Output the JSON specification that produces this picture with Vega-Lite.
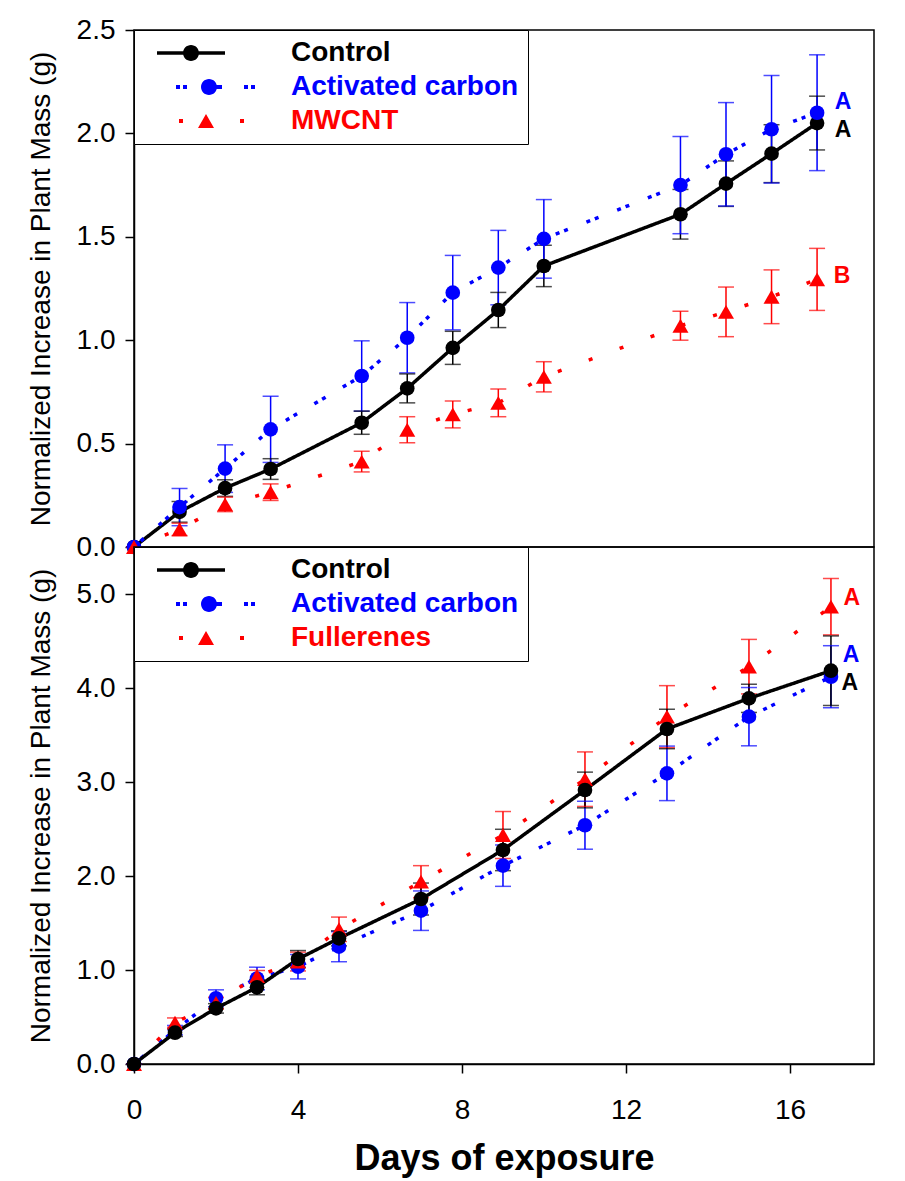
{
  "$schema": "https://vega.github.io/schema/vega-lite/v6.json",
  "background": "#ffffff",
  "padding": {"left": 26, "top": 15, "right": 10, "bottom": 10},
  "spacing": 0,
  "bounds": "flush",
  "resolve": {
    "scale": {"color": "independent", "strokeDash": "independent", "x": "independent", "y": "independent"},
    "legend": {"color": "independent"}
  },
  "datasets": {
    "top": [
      {"series": "Control", "day": 0, "y": 0, "lo": 0, "hi": 0},
      {"series": "Control", "day": 1, "y": 0.17, "lo": 0.12, "hi": 0.22},
      {"series": "Control", "day": 2, "y": 0.285, "lo": 0.245, "hi": 0.325},
      {"series": "Control", "day": 3, "y": 0.377, "lo": 0.327, "hi": 0.427},
      {"series": "Control", "day": 5, "y": 0.601, "lo": 0.545, "hi": 0.657},
      {"series": "Control", "day": 6, "y": 0.767, "lo": 0.697, "hi": 0.837},
      {"series": "Control", "day": 7, "y": 0.963, "lo": 0.883, "hi": 1.043},
      {"series": "Control", "day": 8, "y": 1.146, "lo": 1.061, "hi": 1.231},
      {"series": "Control", "day": 9, "y": 1.359, "lo": 1.259, "hi": 1.459},
      {"series": "Control", "day": 12, "y": 1.609, "lo": 1.489, "hi": 1.729},
      {"series": "Control", "day": 13, "y": 1.757, "lo": 1.647, "hi": 1.867},
      {"series": "Control", "day": 14, "y": 1.902, "lo": 1.762, "hi": 2.042},
      {"series": "Control", "day": 15, "y": 2.05, "lo": 1.92, "hi": 2.18},
      {"series": "Activated carbon", "day": 0, "y": 0, "lo": 0, "hi": 0},
      {"series": "Activated carbon", "day": 1, "y": 0.193, "lo": 0.103, "hi": 0.283},
      {"series": "Activated carbon", "day": 2, "y": 0.379, "lo": 0.264, "hi": 0.494},
      {"series": "Activated carbon", "day": 3, "y": 0.569, "lo": 0.409, "hi": 0.729},
      {"series": "Activated carbon", "day": 5, "y": 0.827, "lo": 0.657, "hi": 0.997},
      {"series": "Activated carbon", "day": 6, "y": 1.012, "lo": 0.842, "hi": 1.182},
      {"series": "Activated carbon", "day": 7, "y": 1.23, "lo": 1.05, "hi": 1.41},
      {"series": "Activated carbon", "day": 8, "y": 1.351, "lo": 1.171, "hi": 1.531},
      {"series": "Activated carbon", "day": 9, "y": 1.49, "lo": 1.3, "hi": 1.68},
      {"series": "Activated carbon", "day": 12, "y": 1.75, "lo": 1.515, "hi": 1.985},
      {"series": "Activated carbon", "day": 13, "y": 1.899, "lo": 1.649, "hi": 2.149},
      {"series": "Activated carbon", "day": 14, "y": 2.02, "lo": 1.76, "hi": 2.28},
      {"series": "Activated carbon", "day": 15, "y": 2.1, "lo": 1.82, "hi": 2.38},
      {"series": "MWCNT", "day": 0, "y": 0, "lo": 0, "hi": 0},
      {"series": "MWCNT", "day": 1, "y": 0.085, "lo": 0.055, "hi": 0.115},
      {"series": "MWCNT", "day": 2, "y": 0.206, "lo": 0.171, "hi": 0.241},
      {"series": "MWCNT", "day": 3, "y": 0.265, "lo": 0.225, "hi": 0.305},
      {"series": "MWCNT", "day": 5, "y": 0.413, "lo": 0.363, "hi": 0.463},
      {"series": "MWCNT", "day": 6, "y": 0.567, "lo": 0.504, "hi": 0.63},
      {"series": "MWCNT", "day": 7, "y": 0.641, "lo": 0.576, "hi": 0.706},
      {"series": "MWCNT", "day": 8, "y": 0.697, "lo": 0.63, "hi": 0.764},
      {"series": "MWCNT", "day": 9, "y": 0.823, "lo": 0.75, "hi": 0.896},
      {"series": "MWCNT", "day": 12, "y": 1.07, "lo": 1.0, "hi": 1.14},
      {"series": "MWCNT", "day": 13, "y": 1.137, "lo": 1.017, "hi": 1.257},
      {"series": "MWCNT", "day": 14, "y": 1.21, "lo": 1.08, "hi": 1.34},
      {"series": "MWCNT", "day": 15, "y": 1.294, "lo": 1.144, "hi": 1.444}
    ],
    "topLabels": [
      {"series": "Activated carbon", "day": 15.57, "y": 2.152, "text": "A"},
      {"series": "Control", "day": 15.57, "y": 2.016, "text": "A"},
      {"series": "MWCNT", "day": 15.55, "y": 1.31, "text": "B"}
    ],
    "bottom": [
      {"series": "Activated carbon", "day": 0, "y": 0, "lo": 0, "hi": 0},
      {"series": "Activated carbon", "day": 1, "y": 0.36, "lo": 0.31, "hi": 0.41},
      {"series": "Activated carbon", "day": 2, "y": 0.699, "lo": 0.609, "hi": 0.789},
      {"series": "Activated carbon", "day": 3, "y": 0.91, "lo": 0.79, "hi": 1.03},
      {"series": "Activated carbon", "day": 4, "y": 1.035, "lo": 0.905, "hi": 1.165},
      {"series": "Activated carbon", "day": 5, "y": 1.248, "lo": 1.088, "hi": 1.408},
      {"series": "Activated carbon", "day": 7, "y": 1.631, "lo": 1.421, "hi": 1.841},
      {"series": "Activated carbon", "day": 9, "y": 2.11, "lo": 1.89, "hi": 2.33},
      {"series": "Activated carbon", "day": 11, "y": 2.54, "lo": 2.285, "hi": 2.795},
      {"series": "Activated carbon", "day": 13, "y": 3.092, "lo": 2.802, "hi": 3.382},
      {"series": "Activated carbon", "day": 15, "y": 3.695, "lo": 3.385, "hi": 4.005},
      {"series": "Activated carbon", "day": 17, "y": 4.12, "lo": 3.79, "hi": 4.45},
      {"series": "Fullerenes", "day": 0, "y": 0, "lo": 0, "hi": 0},
      {"series": "Fullerenes", "day": 1, "y": 0.44, "lo": 0.39, "hi": 0.49},
      {"series": "Fullerenes", "day": 2, "y": 0.65, "lo": 0.59, "hi": 0.71},
      {"series": "Fullerenes", "day": 3, "y": 0.936, "lo": 0.876, "hi": 0.996},
      {"series": "Fullerenes", "day": 4, "y": 1.09, "lo": 0.99, "hi": 1.19},
      {"series": "Fullerenes", "day": 5, "y": 1.433, "lo": 1.303, "hi": 1.563},
      {"series": "Fullerenes", "day": 7, "y": 1.94, "lo": 1.77, "hi": 2.11},
      {"series": "Fullerenes", "day": 9, "y": 2.436, "lo": 2.186, "hi": 2.686},
      {"series": "Fullerenes", "day": 11, "y": 3.03, "lo": 2.74, "hi": 3.32},
      {"series": "Fullerenes", "day": 13, "y": 3.695, "lo": 3.365, "hi": 4.025},
      {"series": "Fullerenes", "day": 15, "y": 4.227, "lo": 3.937, "hi": 4.517},
      {"series": "Fullerenes", "day": 17, "y": 4.865, "lo": 4.565, "hi": 5.165},
      {"series": "Control", "day": 0, "y": 0, "lo": 0, "hi": 0},
      {"series": "Control", "day": 1, "y": 0.333, "lo": 0.293, "hi": 0.373},
      {"series": "Control", "day": 2, "y": 0.592, "lo": 0.542, "hi": 0.642},
      {"series": "Control", "day": 3, "y": 0.816, "lo": 0.736, "hi": 0.896},
      {"series": "Control", "day": 4, "y": 1.117, "lo": 1.027, "hi": 1.207},
      {"series": "Control", "day": 5, "y": 1.337, "lo": 1.257, "hi": 1.417},
      {"series": "Control", "day": 7, "y": 1.755, "lo": 1.585, "hi": 1.925},
      {"series": "Control", "day": 9, "y": 2.277, "lo": 2.057, "hi": 2.497},
      {"series": "Control", "day": 11, "y": 2.915, "lo": 2.725, "hi": 3.105},
      {"series": "Control", "day": 13, "y": 3.564, "lo": 3.354, "hi": 3.774},
      {"series": "Control", "day": 15, "y": 3.89, "lo": 3.74, "hi": 4.04},
      {"series": "Control", "day": 17, "y": 4.184, "lo": 3.814, "hi": 4.554}
    ],
    "bottomLabels": [
      {"series": "Fullerenes", "day": 17.51, "y": 4.957, "text": "A"},
      {"series": "Activated carbon", "day": 17.49, "y": 4.351, "text": "A"},
      {"series": "Control", "day": 17.46, "y": 4.053, "text": "A"}
    ]
  },
  "vconcat": [
    {
      "width": 740,
      "height": 517,
      "data": {"name": "top"},
      "encoding": {
        "x": {"field": "day", "type": "quantitative", "scale": {"domain": [0, 16.25], "nice": false, "zero": false}, "axis": null},
        "color": {
          "field": "series", "type": "nominal",
          "scale": {"domain": ["Control", "Activated carbon", "MWCNT"], "range": ["#000000", "#0000ff", "#ff0000"]},
          "legend": {
            "orient": "top-left", "offset": 0, "title": null, "padding": 9,
            "strokeColor": "#000000", "fillColor": "#ffffff",
            "labelFont": "Liberation Sans", "labelFontSize": 28, "labelFontWeight": "bold", "labelLimit": 500,
            "rowPadding": 6, "symbolSize": 400, "symbolOffset": 49, "labelOffset": 71,
            "symbolType": {"expr": "datum.value === 'Control' ? 'M-4.9,-0.17H1.9V0.17H-4.9ZM-2.3,0A0.8 0.8 0 1 1 -0.7 0A0.8 0.8 0 1 1 -2.3 0Z' : datum.value === 'Activated carbon' ? 'M-3,-0.2H-2.6V0.2H-3ZM-2.3,-0.2H-1.9V0.2H-2.3ZM-0.5,0A0.8 0.8 0 1 1 1.1 0A0.8 0.8 0 1 1 -0.5 0ZM0.9,-0.2H1.6V0.2H0.9ZM3.8,-0.2H4.2V0.2H3.8ZM4.5,-0.2H4.9V0.2H4.5Z' : 'M-2.7,-0.2H-2.3V0.2H-2.7ZM0,-0.7L0.8,0.7L-0.8,0.7ZM3.4,-0.2H3.8V0.2H3.4Z'"},
            "symbolFillColor": {"expr": "datum.value === 'Control' ? '#000000' : datum.value === 'Activated carbon' ? '#0000ff' : '#ff0000'"},
            "symbolStrokeColor": "transparent",
            "symbolStrokeWidth": 0,
            "symbolOpacity": 1,
            "labelColor": {"expr": "datum.value === 'Control' ? '#000000' : datum.value === 'Activated carbon' ? '#0000ff' : '#ff0000'"}
          }
        }
      },
      "layer": [
        {
          "mark": {"type": "rule", "strokeWidth": 1.5},
          "encoding": {
            "y": {"field": "lo", "type": "quantitative", "scale": {"domain": [0, 2.5], "nice": false},
                  "axis": {"title": "Normalized Increase in Plant Mass (g)", "values": [0, 0.5, 1, 1.5, 2, 2.5], "format": ".1f"}},
            "y2": {"field": "hi"}
          }
        },
        {
          "mark": {"type": "tick", "orient": "horizontal", "size": 16, "thickness": 1.5},
          "encoding": {"y": {"field": "lo", "type": "quantitative"}}
        },
        {
          "mark": {"type": "tick", "orient": "horizontal", "size": 16, "thickness": 1.5},
          "encoding": {"y": {"field": "hi", "type": "quantitative"}}
        },
        {
          "mark": {"type": "line", "strokeWidth": 3.5},
          "encoding": {
            "y": {"field": "y", "type": "quantitative"},
            "strokeDash": {"field": "series", "type": "nominal", "scale": {"domain": ["Control", "Activated carbon", "MWCNT"], "range": [[1, 0], [4, 5, 4, 20], [4, 29]]}, "legend": null}
          }
        },
        {
          "transform": [{"filter": "datum.series === 'Control'"}],
          "mark": {"type": "point", "shape": "circle", "filled": true, "opacity": 1, "size": 215, "strokeWidth": 0},
          "encoding": {"y": {"field": "y", "type": "quantitative"}}
        },
        {
          "transform": [{"filter": "datum.series === 'Activated carbon'"}],
          "mark": {"type": "point", "shape": "circle", "filled": true, "opacity": 1, "size": 215, "strokeWidth": 0},
          "encoding": {"y": {"field": "y", "type": "quantitative"}}
        },
        {
          "transform": [{"filter": "datum.series === 'MWCNT'"}],
          "mark": {"type": "point", "shape": "triangle-up", "filled": true, "opacity": 1, "size": 256, "strokeWidth": 0},
          "encoding": {"y": {"field": "y", "type": "quantitative"}}
        },
        {
          "data": {"name": "topLabels"},
          "mark": {"type": "text", "font": "Liberation Sans", "fontSize": 23, "fontWeight": "bold", "align": "center", "baseline": "middle"},
          "encoding": {
            "y": {"field": "y", "type": "quantitative"},
            "text": {"field": "text"}
          }
        }
      ]
    },
    {
      "width": 740,
      "height": 517,
      "data": {"name": "bottom"},
      "encoding": {
        "x": {"field": "day", "type": "quantitative", "scale": {"domain": [0, 18.05], "nice": false, "zero": false},
              "axis": {"title": "Days of exposure", "values": [0, 4, 8, 12, 16], "format": "d", "titleFontSize": 36, "titleFontWeight": "bold", "labelPadding": 23, "titlePadding": 17}},
        "color": {
          "field": "series", "type": "nominal",
          "scale": {"domain": ["Control", "Activated carbon", "Fullerenes"], "range": ["#000000", "#0000ff", "#ff0000"]},
          "legend": {
            "orient": "top-left", "offset": 0, "title": null, "padding": 9,
            "strokeColor": "#000000", "fillColor": "#ffffff",
            "labelFont": "Liberation Sans", "labelFontSize": 28, "labelFontWeight": "bold", "labelLimit": 500,
            "rowPadding": 6, "symbolSize": 400, "symbolOffset": 49, "labelOffset": 71,
            "symbolType": {"expr": "datum.value === 'Control' ? 'M-4.9,-0.17H1.9V0.17H-4.9ZM-2.3,0A0.8 0.8 0 1 1 -0.7 0A0.8 0.8 0 1 1 -2.3 0Z' : datum.value === 'Activated carbon' ? 'M-3,-0.2H-2.6V0.2H-3ZM-2.3,-0.2H-1.9V0.2H-2.3ZM-0.5,0A0.8 0.8 0 1 1 1.1 0A0.8 0.8 0 1 1 -0.5 0ZM0.9,-0.2H1.6V0.2H0.9ZM3.8,-0.2H4.2V0.2H3.8ZM4.5,-0.2H4.9V0.2H4.5Z' : 'M-2.7,-0.2H-2.3V0.2H-2.7ZM0,-0.7L0.8,0.7L-0.8,0.7ZM3.4,-0.2H3.8V0.2H3.4Z'"},
            "symbolFillColor": {"expr": "datum.value === 'Control' ? '#000000' : datum.value === 'Activated carbon' ? '#0000ff' : '#ff0000'"},
            "symbolStrokeColor": "transparent",
            "symbolStrokeWidth": 0,
            "symbolOpacity": 1,
            "labelColor": {"expr": "datum.value === 'Control' ? '#000000' : datum.value === 'Activated carbon' ? '#0000ff' : '#ff0000'"}
          }
        }
      },
      "layer": [
        {
          "mark": {"type": "rule", "strokeWidth": 1.5},
          "encoding": {
            "y": {"field": "lo", "type": "quantitative", "scale": {"domain": [0, 5.5], "nice": false},
                  "axis": {"title": "Normalized Increase in Plant Mass (g)", "values": [0, 1, 2, 3, 4, 5], "format": ".1f"}},
            "y2": {"field": "hi"}
          }
        },
        {
          "mark": {"type": "tick", "orient": "horizontal", "size": 16, "thickness": 1.5},
          "encoding": {"y": {"field": "lo", "type": "quantitative"}}
        },
        {
          "mark": {"type": "tick", "orient": "horizontal", "size": 16, "thickness": 1.5},
          "encoding": {"y": {"field": "hi", "type": "quantitative"}}
        },
        {
          "mark": {"type": "line", "strokeWidth": 3.5},
          "encoding": {
            "y": {"field": "y", "type": "quantitative"},
            "strokeDash": {"field": "series", "type": "nominal", "scale": {"domain": ["Control", "Activated carbon", "Fullerenes"], "range": [[1, 0], [4, 5, 4, 20], [4, 29]]}, "legend": null}
          }
        },
        {
          "transform": [{"filter": "datum.series === 'Activated carbon'"}],
          "mark": {"type": "point", "shape": "circle", "filled": true, "opacity": 1, "size": 215, "strokeWidth": 0},
          "encoding": {"y": {"field": "y", "type": "quantitative"}}
        },
        {
          "transform": [{"filter": "datum.series === 'Fullerenes'"}],
          "mark": {"type": "point", "shape": "triangle-up", "filled": true, "opacity": 1, "size": 256, "strokeWidth": 0},
          "encoding": {"y": {"field": "y", "type": "quantitative"}}
        },
        {
          "transform": [{"filter": "datum.series === 'Control'"}],
          "mark": {"type": "point", "shape": "circle", "filled": true, "opacity": 1, "size": 215, "strokeWidth": 0},
          "encoding": {"y": {"field": "y", "type": "quantitative"}}
        },
        {
          "data": {"name": "bottomLabels"},
          "mark": {"type": "text", "font": "Liberation Sans", "fontSize": 23, "fontWeight": "bold", "align": "center", "baseline": "middle"},
          "encoding": {
            "y": {"field": "y", "type": "quantitative"},
            "text": {"field": "text"}
          }
        }
      ]
    }
  ],
  "config": {
    "view": {"stroke": "#000000", "strokeWidth": 1.5},
    "axis": {
      "domainColor": "#000000", "domainWidth": 1.5, "tickColor": "#000000", "tickWidth": 1.5, "tickSize": 9,
      "labelFont": "Liberation Sans", "labelFontSize": 28, "labelColor": "#000000", "labelFlush": false, "labelPadding": 10,
      "titleFont": "Liberation Sans", "titleFontSize": 28, "titleFontWeight": "normal", "titleColor": "#000000", "titlePadding": 21,
      "grid": false
    }
  }
}
